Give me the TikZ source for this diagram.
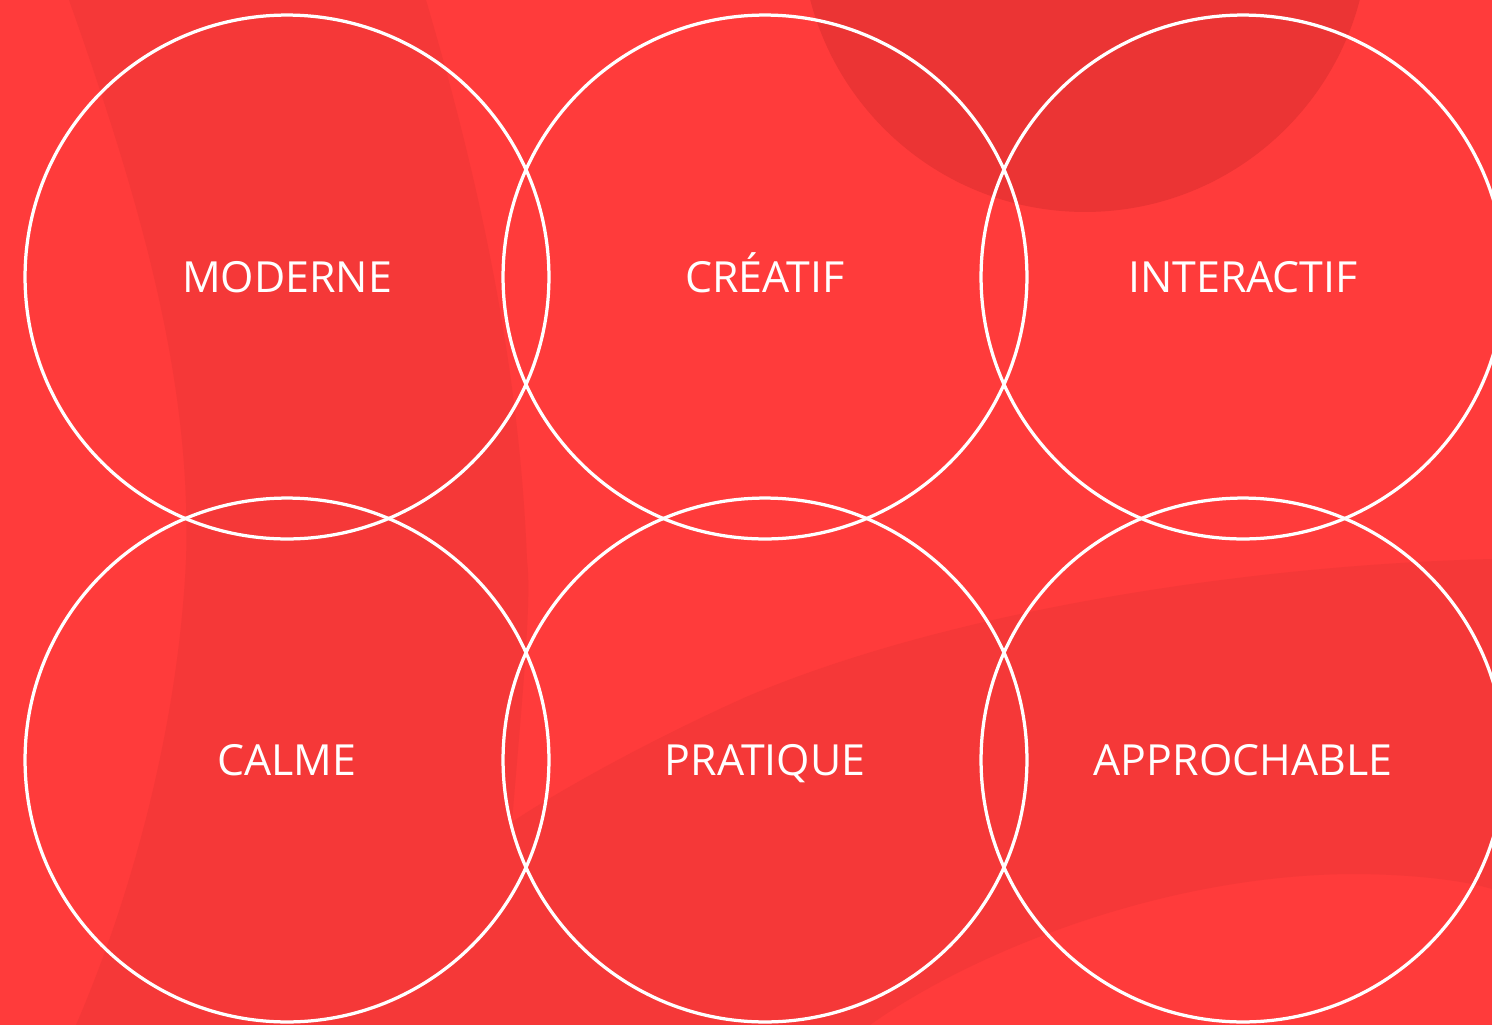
\documentclass[tikz,border=0pt]{standalone}
\usepackage{fontspec}
\setmainfont{Open Sans}
\usepackage{xcolor}
\definecolor{bgred}{HTML}{FF3B3B}
\definecolor{bandred}{HTML}{F53838}
\definecolor{topred}{HTML}{EB3434}

\begin{document}
\begin{tikzpicture}[x=0.02cm,y=-0.02cm,
	ring/.style={circle, draw=white, line width=0.065cm, minimum size=10.48cm, inner sep=0pt,
		text=white, font=\fontsize{24.4}{30}\selectfont, text height=17.4pt, text depth=0pt}]
	\useasboundingbox (0,0) rectangle (1492,1025);
	\fill[bgred] (0,0) rectangle (1492,1025);
	% shaded bands behind the circles
	\fill[bandred] (69,0) .. controls (140,200) and (192,380) .. (186,560)
		.. controls (178,730) and (130,900) .. (76,1025) -- (870,1025)
		.. controls (960,960) and (1150,876) .. (1350,874)
		.. controls (1420,874) and (1470,882) .. (1492,889) -- (1492,559)
		.. controls (1250,565) and (950,610) .. (746,697)
		.. controls (650,740) and (560,790) .. (512,822)
		.. controls (522,700) and (532,600) .. (527,560)
		.. controls (520,380) and (485,200) .. (426,0) -- cycle;
	\fill[topred] (1085,-72) circle [radius=5.68cm];
	% the six circles
	\node[ring] (moderne) at (287,277) {MODERNE};
	\node[ring] (creatif) at (765,277) {CRÉATIF};
	\node[ring] (interactif) at (1243,277) {INTERACTIF};
	\node[ring] (calme) at (287,760) {CALME};
	\node[ring] (pratique) at (765,760) {PRATIQUE};
	\node[ring] (approchable) at (1243,760) {APPROCHABLE};
\end{tikzpicture}
\end{document}
